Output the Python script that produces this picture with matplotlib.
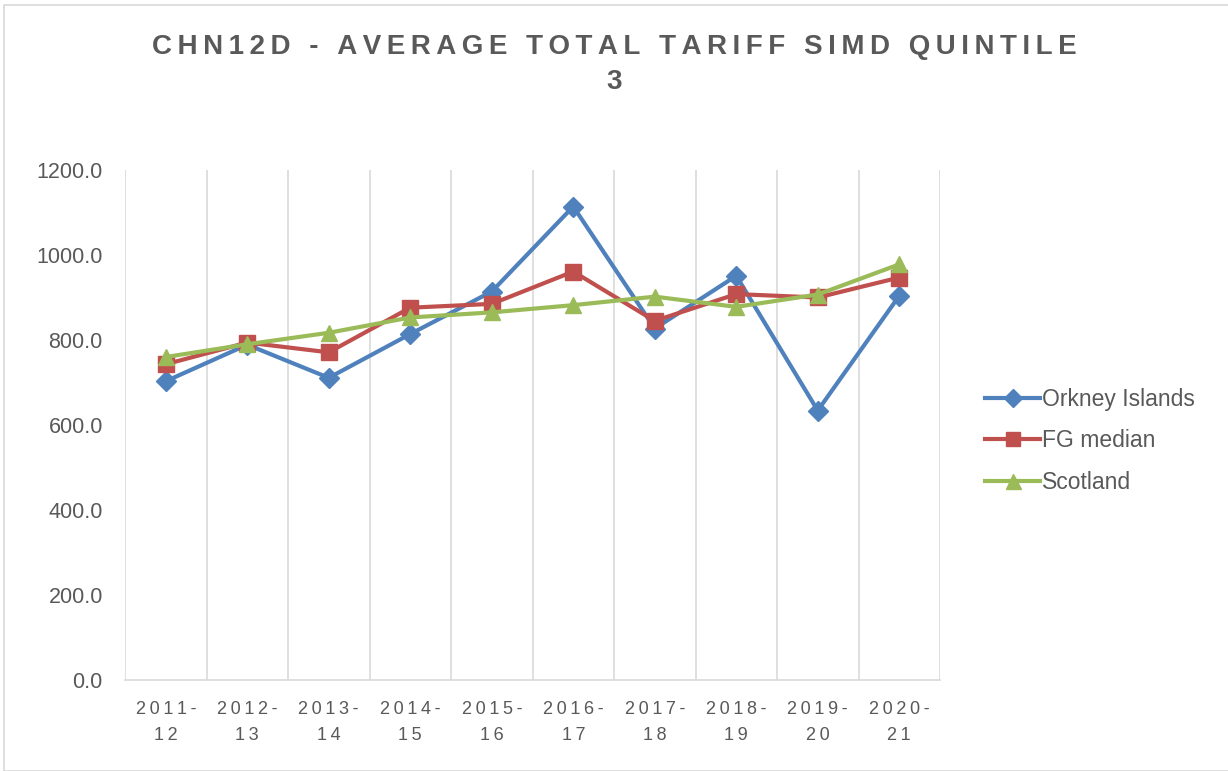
import numpy as np
import matplotlib.pyplot as plt
from matplotlib.patches import Rectangle

# data
years = ['2011-12', '2012-13', '2013-14', '2014-15', '2015-16',
         '2016-17', '2017-18', '2018-19', '2019-20', '2020-21']
orkney = [703, 789, 711, 814, 914, 1114, 827, 951, 634, 904]
fg_median = [743, 794, 771, 876, 885, 961, 845, 908, 900, 947]
scotland = [760, 790, 817, 853, 865, 882, 902, 878, 907, 978]

TXT = '#595959'
GRID = '#d9d9d9'
SP = '\u2009'  # thin space used to mimic the letter spacing

plt.rcParams['font.family'] = ['Liberation Sans', 'DejaVu Sans']


def spaced(s):
    return SP.join(s)


fig = plt.figure(figsize=(12.28, 7.71), dpi=100)
fig.patches.append(Rectangle((4 / 1228, 0), 1.2, (771 - 5) / 771, transform=fig.transFigure,
                             fill=False, edgecolor=GRID, linewidth=1.2))

ax = fig.add_axes([125 / 1228, 91 / 771, 815 / 1228, 510 / 771])
x = np.arange(len(years))

ax.plot(x, orkney, color='#4f81bd', lw=3, marker='D', ms=10, label='Orkney Islands', zorder=3)
ax.plot(x, fg_median, color='#c0504d', lw=3, marker='s', ms=11, label='FG median', zorder=4)
ax.plot(x, scotland, color='#9bbb59', lw=3, marker='^', ms=12, label='Scotland', zorder=5)

ax.set_xlim(-0.5, len(years) - 0.5)
ax.set_ylim(0, 1200)
ax.set_yticks(np.arange(0, 1201, 200))
ax.set_yticklabels([f'{v:.1f}' for v in np.arange(0, 1201, 200)], fontsize=15.5, color=TXT)

ax.set_xticks(x)
ax.set_xticklabels([spaced(y.split('-')[0] + '-') + '\n' + spaced(y.split('-')[1]) for y in years],
                   fontsize=13, color=TXT, linespacing=1.7)
ax.set_xticks(np.arange(-0.5, len(years)), minor=True)
ax.grid(True, which='minor', axis='x', color=GRID, lw=1.2)
ax.tick_params(axis='x', which='both', length=0, pad=15)
ax.tick_params(axis='y', which='both', length=0, pad=16)

for s in ['top', 'right', 'left']:
    ax.spines[s].set_visible(False)
ax.spines['bottom'].set_color(GRID)
ax.spines['bottom'].set_linewidth(1.2)

fig.text(0.5, 1 - 47 / 771, spaced('CHN12D - AVERAGE TOTAL TARIFF SIMD QUINTILE'),
         ha='center', va='center', fontsize=20, fontweight='bold', color=TXT)
fig.text(0.5, 1 - 82 / 771, '3', ha='center', va='center', fontsize=20,
         fontweight='bold', color=TXT)

fig.legend(loc='center left', bbox_to_anchor=(985 / 1228, 1 - 441 / 771), frameon=False,
           fontsize=16.5, labelcolor=TXT, handlelength=2.4, handletextpad=0.1,
           labelspacing=0.8, markerscale=0.9, borderpad=0, borderaxespad=0)

fig.savefig('out.png', dpi=100)
